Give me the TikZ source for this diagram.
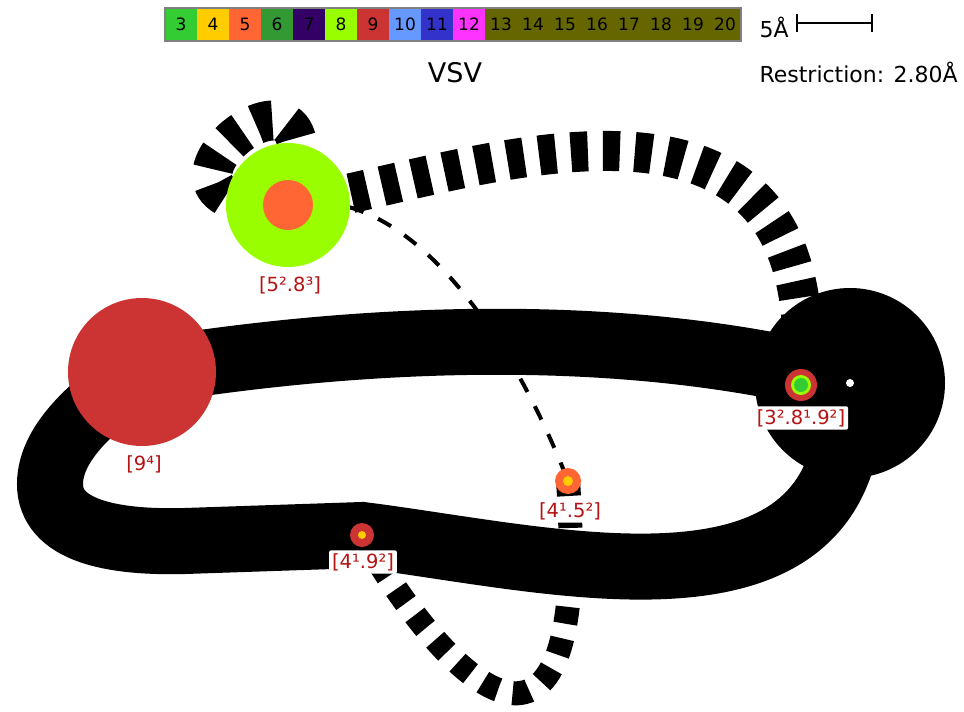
\documentclass[tikz,border=0pt]{standalone}
\usepackage{fontspec}
\setmainfont{DejaVu Sans}
\usetikzlibrary{backgrounds}

\definecolor{c3}{HTML}{33CC33}
\definecolor{c4}{HTML}{FFCC00}
\definecolor{c5}{HTML}{FF6633}
\definecolor{c6}{HTML}{339933}
\definecolor{c7}{HTML}{330066}
\definecolor{c8}{HTML}{99FF00}
\definecolor{c9}{HTML}{CC3333}
\definecolor{c10}{HTML}{6699FF}
\definecolor{c11}{HTML}{3333CC}
\definecolor{c12}{HTML}{FF33FF}
\definecolor{c13}{HTML}{666600}
\definecolor{tagred}{HTML}{B41414}

\tikzset{
  site/.style={circle, inner sep=0pt, draw=none},
  tag/.style={fill=white, rounded corners=2pt, inner sep=3pt, text=tagred,
    font=\fontsize{19.5}{21}\selectfont},
  cell/.style={minimum width=32pt, minimum height=33pt, inner sep=0pt,
    font=\fontsize{17}{20}\selectfont},
  bond/.style={line width=66pt},
  wide dash/.style={line width=40pt, dash pattern=on 17pt off 15pt},
  narrow dash/.style={line width=24pt, dash pattern=on 17pt off 15pt},
  thin dash/.style={line width=4pt, dash pattern=on 15pt off 16pt}
}

\begin{document}
\begin{tikzpicture}[x=1pt, y=-1pt]
    \useasboundingbox (0,0) rectangle (964,712);

    % legend bar
    \foreach \n/\c [count=\i from 0] in {3/c3,4/c4,5/c5,6/c6,7/c7,8/c8,9/c9,10/c10,11/c11,12/c12}
        \node[cell, fill=\c] (key\n) at (181+32*\i, 24.5) {\n};
    \node[cell, fill=c13, minimum width=256pt] (keyrest) at (613, 24.5) {};
    \foreach \n [count=\i from 0] in {13,...,20}
        \node[cell] (key\n) at (501+32*\i, 24.5) {\n};
    \draw[gray, line width=1.5pt] (165,8) rectangle (741,41);

    % scale
    \node[anchor=base west, font=\fontsize{22}{24}\selectfont] (scale) at (756,37) {5Å};
    \coordinate (barl) at (797,23);
    \coordinate (barr) at (872,23);
    \draw[line width=1.2pt] (barl) -- (barr);
    \draw[line width=1.2pt] (barl) ++(0,-9) -- ++(0,18);
    \draw[line width=1.2pt] (barr) ++(0,-9) -- ++(0,18);

    \node[anchor=base, font=\fontsize{27}{30}\selectfont] (title) at (455,82) {VSV};
    \node[anchor=base west, font=\fontsize{22}{24}\selectfont] (restr) at (756,82) {Restriction: 2.80Å};

    % sites
    \node[site, fill=black, minimum size=190pt] (hub) at (850,383) {};
    \fill[white] (hub) circle (4pt);
    \node[site, fill=c9, minimum size=148pt] (n9) at (142,372) {};
    \node[site, fill=c8, minimum size=124pt] (n58) at (288,205) {};
    \fill[c5] (n58) circle (25pt);
    \node[site, fill=c9, minimum size=32pt] (n389) at (801,385) {};
    \fill[c8] (n389) circle (10pt);
    \fill[c3] (n389) circle (7pt);
    \node[site, fill=c5, minimum size=26pt] (n45) at (568,481) {};
    \fill[c4] (n45) circle (5pt);
    \node[site, fill=c9, minimum size=24pt] (n49) at (362,535) {};
    \fill[c4] (n49) circle (4pt);

    % edges behind the sites
    \begin{pgfonlayer}{background}
        \draw[wide dash] (n58.center) .. controls (440,186) and (830,20) .. (n389.center);
        \draw[wide dash] (n58.center) .. controls (90,215) and (350,10) .. (n58.center);
        \draw[narrow dash] (n49.center) .. controls (470,720) and (590,790) .. (n45.center);
        \draw[thin dash] (n58.center) .. controls (400,180) and (505,320) .. (n45.center);

        \draw[bond] (n9.center) .. controls (400,330) and (650,330) .. (hub.center);
        \draw[bond] (n9.center) .. controls (100,400) and (50,440) .. (50,484)
            .. controls (50,530) and (110,543) .. (185,541) -- (n49.center)
            .. controls (560,560) and (860,640) .. (hub.center);
    \end{pgfonlayer}

    % labels
    \node[tag] (l9) at (144,464) {[9⁴]};
    \node[tag] (l58) at (290,285) {[5².8³]};
    \node[tag] (l389) at (801,418) {[3².8¹.9²]};
    \node[tag] (l45) at (570,511) {[4¹.5²]};
    \node[tag] (l49) at (363,562) {[4¹.9²]};
\end{tikzpicture}
\end{document}
